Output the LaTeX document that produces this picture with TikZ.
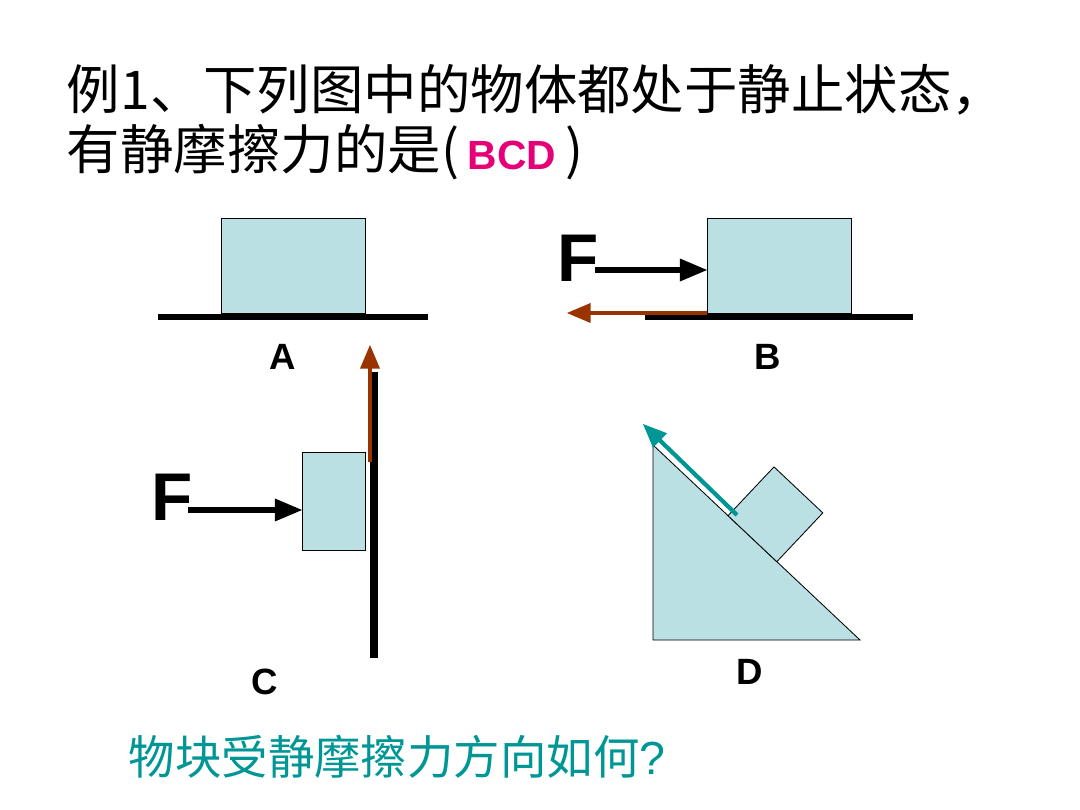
\documentclass[tikz,border=0pt]{standalone}
\usepackage{fontspec}
\setmainfont{Liberation Sans}
\newfontfamily\cjk{Noto Sans CJK SC}
\usetikzlibrary{arrows,positioning}
\definecolor{boxfill}{RGB}{187,224,227}
\definecolor{fric}{RGB}{153,51,0}
\definecolor{teal}{RGB}{0,150,150}
\definecolor{ans}{RGB}{230,0,120}
\tikzset{
	block/.style={draw,fill=boxfill,line width=0.6pt},
	ground/.style={line width=4.5pt},
	push/.style={line width=3.6pt,-triangle 45},
	friction/.style={color=fric,line width=3pt,-triangle 45},
	tag/.style={font=\bfseries\fontsize{26}{26}\selectfont},
	bigF/.style={font=\bfseries\fontsize{48}{48}\selectfont}
}
\begin{document}
\begin{tikzpicture}[x=0.025cm,y=-0.025cm]
	\useasboundingbox (0,0) rectangle (1080,810);
	% title
	\node[anchor=west,font=\cjk\fontsize{38}{38}\selectfont] (t1) at (62,90) {例1、下列图中的物体都处于静止状态，};
	\node[anchor=west,font=\cjk\fontsize{38}{38}\selectfont] (t2) at (62,152) {有静摩擦力的是(\,{\rmfamily\bfseries\fontsize{29}{29}\selectfont\color{ans}BCD}\,)};
	% A
	\draw[block] (221,218) rectangle (365,313);
	\draw[ground] (158,317) -- (428,317);
	\node[tag] (la) at (283,357) {A};
	% B
	\draw[block] (707,218) rectangle (851,313);
	\draw[ground] (645,317) -- (913,317);
	\node[bigF] (fb) at (578,258) {F};
	\coordinate (bt) at (707,270);
	\draw[push] (595,270) -- (bt);
	\coordinate (bf) at (567,313);
	\draw[friction] (707,313) -- (bf);
	\node[tag] (lb) at (768,357) {B};
	% C
	\draw[line width=6pt] (374,372) -- (374,658);
	\draw[block] (302,452) rectangle (365,550);
	\coordinate (cf) at (370,345);
	\draw[friction] (370,462) -- (cf);
	\node[bigF] (fc) at (172,497) {F};
	\coordinate (ct) at (302,510);
	\draw[push] (188,510) -- (ct);
	\node[tag] (lc) at (265,682) {C};
	% D
	\draw[block] (653,445) -- (653,640) -- (860,640) -- cycle;
	\draw[block] (728,515.7) -- (776.8,561.7) -- (822.8,512.9) -- (774,466.9) -- cycle;
	\coordinate (df) at (643,424);
	\draw[color=teal,line width=3pt,-triangle 45] (737,515) -- (df);
	\node[tag] (ld) at (750,672) {D};
	% question
	\node[anchor=west,text=teal,font=\cjk\fontsize{33}{33}\selectfont] (q) at (124,757) {物块受静摩擦力方向如何{\rmfamily ?}};
\end{tikzpicture}
\end{document}
